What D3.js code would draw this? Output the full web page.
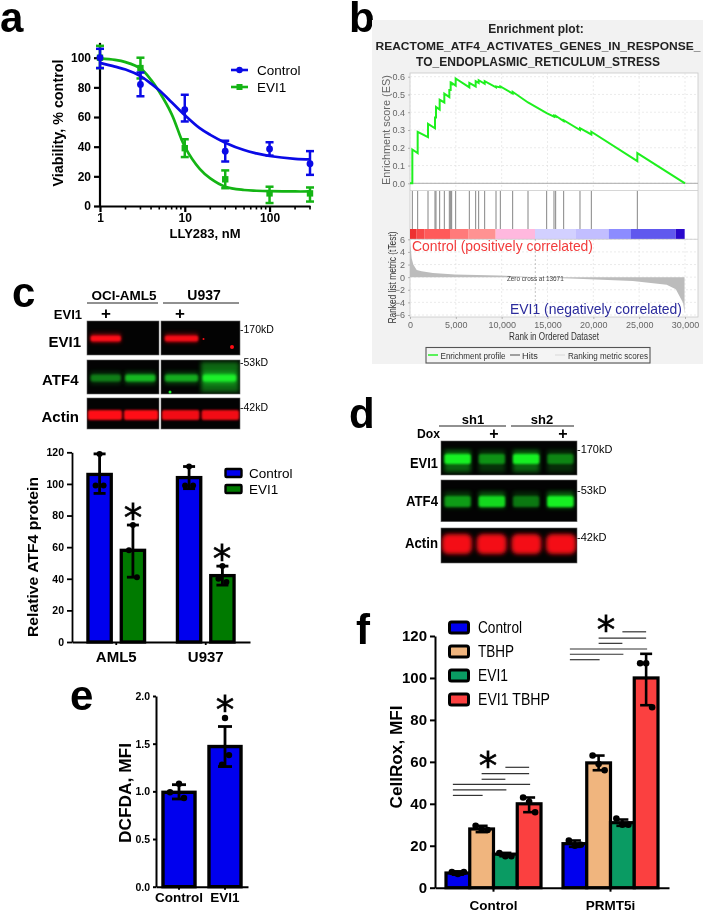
<!DOCTYPE html>
<html><head><meta charset="utf-8">
<script src="https://cdn.jsdelivr.net/npm/d3@7/dist/d3.min.js"></script>
<style>
html,body{margin:0;padding:0;background:#fff}
svg{display:block;filter:blur(0.45px)}
text{font-family:"Liberation Sans",Arial,sans-serif;fill:#000}
</style></head><body>
<svg id="c" width="705" height="912"></svg>
<script>
// ---------- panel a
const aDoses=[1,3,10,30,100,300];
const aControl=[100,82,65,37,38.5,28.5];
const aControlLo=[93,74,57,30,34,21];
const aControlHi=[106,90,75,44,43,37];
const aEvi=[100,93,39,18,8.5,8.5];
const aEviLo=[93,86,33,12,2,3];
const aEviHi=[108,100,45,24,13,12.5];
const aCurveDoses=[1,1.5,2,3,4,5,7,10,15,20,30,50,70,100,200,300];
const aControlCurve=[96.5,94,92,87.6,82.5,78,70,61.3,52.5,48,42.7,37.7,35.5,33.7,31.8,31.4];
const aEviCurve=[99.5,98.5,97,92.8,85,77,62,40,25,18.6,13,10.8,10.3,10,9.8,9.8];
// ---------- panel b
const esHits=[255,836,1964,2727,2836,3236,3745,4291,4436,4545,4982,6473,7164,7491,8145,9382,9855,11200,12873,14909,15709,15891,16764,18545,19782,24800];
const esBefore=[0,.17,.26,.31,.37,.415,.455,.485,.525,.56,.55,.54,.545,.565,.56,.54,.54,.505,.455,.395,.375,.375,.35,.3,.275,.125];
const esAfter=[.19,.29,.335,.37,.43,.47,.505,.525,.565,.565,.59,.565,.575,.58,.575,.545,.545,.515,.455,.395,.38,.38,.355,.31,.29,.17];
const barEnds=[727,1600,4364,6400,9345,13636,18109,21673,24109,28982,29964];
const barColors=["#ee3030","#f84848","#ff5a5a","#ff7a7a","#ff9292","#ffb8de","#d2d0ff","#c2beff","#8c8cff","#6058ee","#2a08cc"];
const rankX=[0,100,180,360,730,1270,2500,4900,9700,13671,18900,24300,28000,29000,29800,29950];
const rankY=[5.6,4.3,3,2,1.15,.95,.65,.42,.27,0,-.3,-.6,-1.2,-1.9,-4.1,-5.7];
const esYTicks=[0,.1,.2,.3,.4,.5,.6];
const rankYTicks=[-6,-4,-2,0,2,4,6];
const rankXTicks=[0,5000,10000,15000,20000,25000,30000];
// ---------- panel c
const cGroups=["AML5","U937"];
const cSeries=["Control","EVI1"];
const cValues=[[106,58],[104,42]];
const cHi=[[119,74],[111,48]];
const cLo=[[94,41],[97,36]];
const cPoints=[[[119,99,99],[74,58,41]],[[111,99,99],[48,40,38]]];
const cYTicks=[0,20,40,60,80,100,120];
const cBlotEvi=[1,0,.95,0];
const cBlotAtf=[.42,.68,.62,1];
const cBlotActin=[1,1,.95,.95];
// ---------- panel d
const dBlotEvi=[1,.5,1,.45];
const dBlotAtf=[.55,.85,.4,1];
const dBlotActin=[1,1,1,1];
// ---------- panel e
const eCats=["Control","EVI1"];
const eValues=[.99,1.47];
const eHi=[1.07,1.68];
const eLo=[.92,1.26];
const ePoints=[[1.08,.99,.93],[1.77,1.38,1.28]];
const eYTicks=[0,.5,1,1.5,2];
// ---------- panel f
const fGroups=["Control","PRMT5i"];
const fSeries=["Control","TBHP","EVI1","EVI1 TBHP"];
const fValues=[[7,28,16,40],[21,59.5,31,100]];
const fHi=[[7.8,29.5,16.6,43],[22.5,63,32.5,111.5]];
const fLo=[[6.2,26.5,15,36],[19.5,56,29.5,87]];
const fPoints=[[[7.5,6.5,7.5],[29.5,28,27.5],[16.5,15,15],[43,41,36]],[[22.5,20,20.5],[63,59,56],[33,30,30],[107,107,86]]];
const fYTicks=[0,20,40,60,80,100,120];
const fSig=[[[2,3,57.4],[1,3,54.4],[1,2,51.7],[0,3,49.3],[0,2,46.6],[0,1,44]],[[2,3,122],[1,3,119],[1,2,116.5],[0,3,113.8],[0,2,111.3],[0,1,108.7]]];

const svg=d3.select("#c");
const defs=svg.append("defs");
[["b1",1.1],["b2",2],["b3",4]].forEach(([id,s])=>{
  defs.append("filter").attr("id",id).attr("x","-30%").attr("y","-80%").attr("width","160%").attr("height","260%")
   .append("feGaussianBlur").attr("stdDeviation",s);
});
function T(x,y,s,o={}){
  const t=svg.append("text").attr("x",x).attr("y",y).text(s)
   .attr("font-size",o.size||12).attr("font-weight",o.bold?"bold":"normal")
   .attr("text-anchor",o.anchor||"start").style("fill",o.fill||"#000");
  if(o.family)t.style("font-family",o.family);
  if(o.len)t.attr("textLength",o.len).attr("lengthAdjust","spacingAndGlyphs");
  if(o.rot)t.attr("transform",`rotate(${o.rot} ${x} ${y})`);
  return t;
}
function star(cx,cy){T(cx,cy+18,"*",{size:37,anchor:"middle",family:"DejaVu Sans"}).style("stroke","#000").style("stroke-width",.6);}
function styleAxis(g,w,fs,bold=true){
  g.selectAll("path.domain").attr("stroke","#000").attr("stroke-width",w);
  g.selectAll(".tick line").attr("stroke","#000").attr("stroke-width",w);
  g.selectAll("text").attr("font-size",fs).attr("font-weight",bold?"bold":"normal").style("font-family",'"Liberation Sans"').style("fill","#000");
}
[["a",0,32],["b",349,32],["c",12,307],["d",349,428],["e",70,710],["f",356,644]].forEach(([s,x,y])=>T(x,y,s,{size:42,bold:true}));

// ===== panel a
(function(){
  const x=d3.scaleLog().domain([1,300]).range([100,310]);
  const y=d3.scaleLinear().domain([0,100]).range([206,57.7]);
  const gy=svg.append("g").attr("transform","translate(100,0)").call(d3.axisLeft(y).tickValues([0,20,40,60,80,100]).tickSize(6).tickSizeOuter(0));
  gy.select("path.domain").attr("d",`M0,${y(110)}V${y(0)}`);
  styleAxis(gy,2.2,12);
  const minor=[2,3,4,5,6,7,8,9,20,30,40,50,60,70,80,90,200,300];
  const gxm=svg.append("g").attr("transform","translate(0,206)");
  gxm.selectAll("line").data(minor).join("line").attr("x1",d=>x(d)).attr("x2",d=>x(d)).attr("y1",0).attr("y2",3.5).attr("stroke","#000").attr("stroke-width",1.6);
  const gx=svg.append("g").attr("transform","translate(0,206)").call(d3.axisBottom(x).tickValues([1,10,100]).tickFormat(d3.format("d")).tickSize(6).tickSizeOuter(0));
  styleAxis(gx,2.2,12);
  gx.selectAll("text").attr("dy","0.55em");
  T(63,123,"Viability, % control",{size:15,bold:true,anchor:"middle",rot:-90,len:127});
  T(205,238,"LLY283, nM",{size:13,bold:true,anchor:"middle"});
  const line=d3.line().x(d=>x(d[0])).y(d=>y(d[1])).curve(d3.curveCatmullRom.alpha(.5));
  const S=[
   {c:"#14b414",curve:aEviCurve,v:aEvi,lo:aEviLo,hi:aEviHi,sq:true},
   {c:"#0a0ae6",curve:aControlCurve,v:aControl,lo:aControlLo,hi:aControlHi,sq:false}];
  S.forEach(s=>{
    svg.append("path").attr("d",line(aCurveDoses.map((d,i)=>[d,s.curve[i]]))).attr("fill","none").attr("stroke",s.c).attr("stroke-width",2.7);
    aDoses.forEach((d,i)=>{
      const g=svg.append("g").attr("stroke",s.c).attr("stroke-width",2.5);
      g.append("line").attr("x1",x(d)).attr("x2",x(d)).attr("y1",y(s.lo[i])).attr("y2",y(s.hi[i]));
      [s.lo[i],s.hi[i]].forEach(v=>g.append("line").attr("x1",x(d)-4).attr("x2",x(d)+4).attr("y1",y(v)).attr("y2",y(v)));
      if(s.sq)svg.append("rect").attr("x",x(d)-3.2).attr("y",y(s.v[i])-3.2).attr("width",6.4).attr("height",6.4).attr("fill",s.c);
      else svg.append("circle").attr("cx",x(d)).attr("cy",y(s.v[i])).attr("r",3.4).attr("fill",s.c);
    });
  });
  [["Control","#0a0ae6",70,false],["EVI1","#14b414",87,true]].forEach(([n,c,yy,sq])=>{
    svg.append("line").attr("x1",231).attr("x2",248).attr("y1",yy).attr("y2",yy).attr("stroke",c).attr("stroke-width",2.6);
    if(sq)svg.append("rect").attr("x",236.5).attr("y",yy-3).attr("width",6).attr("height",6).attr("fill",c);
    else svg.append("circle").attr("cx",239.5).attr("cy",yy).attr("r",3.2).attr("fill",c);
    T(257,yy+5,n,{size:13.5});
  });
})();

// ===== panel b
(function(){
  svg.append("rect").attr("x",372).attr("y",20).attr("width",331).attr("height",344).attr("fill","#f2f2f2");
  svg.append("rect").attr("x",410).attr("y",73).attr("width",288).attr("height",244).attr("fill","#fff").attr("stroke","#c8c8c8").attr("stroke-width",.8);
  const tf={bold:true,anchor:"middle",size:12,fill:"#222"};
  T(536,33,"Enrichment plot:",tf);
  T(538,50,"REACTOME_ATF4_ACTIVATES_GENES_IN_RESPONSE_",{...tf,size:11.7,len:325});
  T(538,66,"TO_ENDOPLASMIC_RETICULUM_STRESS",tf);
  const x=d3.scaleLinear().domain([0,30000]).range([410,685]);
  const yE=d3.scaleLinear().domain([0,.6]).range([183.3,76.7]);
  const yR=d3.scaleLinear().domain([-6,6]).range([315,239.3]);
  const grid=svg.append("g").attr("stroke","#ddd").attr("stroke-width",.6).attr("stroke-dasharray","2,2");
  rankXTicks.forEach(t=>{
    grid.append("line").attr("x1",x(t)).attr("x2",x(t)).attr("y1",73).attr("y2",190);
    grid.append("line").attr("x1",x(t)).attr("x2",x(t)).attr("y1",239).attr("y2",317);
  });
  esYTicks.forEach(t=>grid.append("line").attr("x1",410).attr("x2",698).attr("y1",yE(t)).attr("y2",yE(t)));
  rankYTicks.forEach(t=>grid.append("line").attr("x1",410).attr("x2",698).attr("y1",yR(t)).attr("y2",yR(t)));
  svg.append("line").attr("x1",410).attr("x2",698).attr("y1",yE(0)).attr("y2",yE(0)).attr("stroke","#aaa");
  svg.append("rect").attr("x",410).attr("y",190).attr("width",288).attr("height",.8).attr("fill","#ccc");
  const prof=[[0,0]];
  esHits.forEach((h,i)=>{prof.push([h,esBefore[i]]);prof.push([h,esAfter[i]]);});
  prof.push([30000,0]);
  svg.append("path").attr("d",d3.line().x(d=>x(d[0])).y(d=>yE(d[1]))(prof)).attr("fill","none").attr("stroke","#1ef01e").attr("stroke-width",2);
  svg.append("g").selectAll("line").data(esHits).join("line").attr("x1",d=>x(d)).attr("x2",d=>x(d)).attr("y1",191).attr("y2",229).attr("stroke","#777").attr("stroke-width",.9);
  svg.append("g").selectAll("rect").data(barEnds).join("rect")
    .attr("x",(d,i)=>x(i?barEnds[i-1]:0)).attr("width",(d,i)=>x(d)-x(i?barEnds[i-1]:0)).attr("y",229).attr("height",10).attr("fill",(d,i)=>barColors[i]);
  svg.append("line").attr("x1",410).attr("x2",698).attr("y1",239.3).attr("y2",239.3).attr("stroke","#ccc").attr("stroke-width",.8);
  svg.append("path").attr("d",d3.area().x((d,i)=>x(rankX[i])).y0(yR(0)).y1(d=>yR(d))(rankY)).attr("fill","#bcbcbc");
  svg.append("line").attr("x1",x(13671)).attr("x2",x(13671)).attr("y1",239).attr("y2",317).attr("stroke","#aaa").attr("stroke-width",.7).attr("stroke-dasharray","2,2");
  T(x(13671),280.5,"Zero cross at 13671",{size:6.4,anchor:"middle",fill:"#444"});
  const g1=svg.append("g").attr("transform","translate(410,0)").call(d3.axisLeft(yE).tickValues(esYTicks).tickFormat(d3.format(".1f")).tickSize(2).tickSizeOuter(0));
  const g2=svg.append("g").attr("transform","translate(410,0)").call(d3.axisLeft(yR).tickValues(rankYTicks).tickSize(2).tickSizeOuter(0));
  const g3=svg.append("g").attr("transform","translate(0,317)").call(d3.axisBottom(x).tickValues(rankXTicks).tickFormat(d3.format(",")).tickSize(2).tickSizeOuter(0));
  [g1,g2,g3].forEach(g=>{
    g.selectAll("path.domain").attr("stroke","none");
    g.selectAll(".tick line").attr("stroke","#999").attr("stroke-width",.7);
    g.selectAll("text").attr("font-size",9).style("fill","#666").style("font-family",'"Liberation Sans"');
  });
  T(390,130,"Enrichment score (ES)",{size:11,anchor:"middle",rot:-90,fill:"#666",len:110});
  T(396,277.5,"Ranked list metric (tTest)",{size:10.5,anchor:"middle",rot:-90,fill:"#333",len:92});
  T(554,340,"Rank in Ordered Dataset",{size:10,anchor:"middle",fill:"#333",len:90});
  T(412,251,"Control (positively correlated)",{size:14.5,fill:"#f23b3b",len:181});
  T(510,313.5,"EVI1 (negatively correlated)",{size:14.5,fill:"#2b2b9c",len:172});
  svg.append("rect").attr("x",426).attr("y",347.5).attr("width",224).attr("height",15.5).attr("fill","#f4f4f4").attr("stroke","#555").attr("stroke-width",1.1);
  svg.append("line").attr("x1",428).attr("x2",438).attr("y1",355).attr("y2",355).attr("stroke","#28f028").attr("stroke-width",1.5);
  T(440.5,358.5,"Enrichment profile",{size:9.2,fill:"#333",len:65});
  svg.append("line").attr("x1",510).attr("x2",520).attr("y1",355).attr("y2",355).attr("stroke","#666").attr("stroke-width",1.2);
  T(522,358.5,"Hits",{size:9.2,fill:"#333"});
  svg.append("line").attr("x1",555).attr("x2",565).attr("y1",355).attr("y2",355).attr("stroke","#ddd").attr("stroke-width",1.2);
  T(568,358.5,"Ranking metric scores",{size:9.2,fill:"#333",len:80});
})();

// ===== blots
function gelRow(x0,x1,y0,y1,lanes,color,o={}){
  svg.append("rect").attr("x",x0).attr("y",y0).attr("width",x1-x0).attr("height",y1-y0).attr("fill","#030303").attr("stroke","#666").attr("stroke-width",.6);
  const clipId="cl"+Math.round(x0)+"_"+Math.round(y0);
  defs.append("clipPath").attr("id",clipId).append("rect").attr("x",x0).attr("y",y0).attr("width",x1-x0).attr("height",y1-y0);
  const g=svg.append("g").attr("clip-path",`url(#${clipId})`);
  const b=d3.scaleBand().domain(d3.range(lanes.length)).range([x0,x1]).paddingInner(o.pi??.12).paddingOuter(o.po??.1);
  const h=o.h||6, cy=o.cy??(y0+y1)/2;
  lanes.forEach((v,i)=>{
    if(!v)return;
    const X=b(i), W=b.bandwidth();
    if(o.haze)g.append("rect").attr("x",X).attr("y",cy-h*.9).attr("width",W).attr("height",h*o.haze).attr("fill",color).attr("opacity",v*.4).attr("filter","url(#b2)");
    g.append("rect").attr("x",X).attr("y",cy-h/2).attr("width",W).attr("height",h).attr("rx",o.rx||2).attr("fill",color).attr("opacity",Math.min(1,v)).attr("filter",`url(#${o.blur||"b1"})`);
  });
  return g;
}
function label(x,y,s,sz=15,len){T(x,y,s,{size:sz,bold:true,anchor:"end",len});}

// ===== panel c blots
(function(){
  const R="#ff0c14",G="#1cf02c";
  const rows=[[321,355,cBlotEvi,R,{h:6,cy:338.5,haze:1.6}],[360,394,cBlotAtf,G,{h:7,cy:378,haze:1.8}],[398,429,cBlotActin,R,{h:10,cy:415,pi:.05,po:.02}]];
  const gels=[[87,159,0,2],[161,240,2,4]];
  rows.forEach(r=>gels.forEach(([a,b,s,e])=>{
    const g=gelRow(a,b,r[0],r[1],r[2].slice(s,e),r[3],r[4]);
    if(r[2]===cBlotAtf&&s===2){
      g.append("rect").attr("x",201).attr("y",362).attr("width",38).attr("height",30).attr("fill",G).attr("opacity",.42).attr("filter","url(#b2)");
      g.append("circle").attr("cx",170).attr("cy",392).attr("r",1.5).attr("fill",G);
    }
    if(r[2]===cBlotEvi&&s===2){
      g.append("circle").attr("cx",203.5).attr("cy",339).attr("r",1).attr("fill",R);
      g.append("circle").attr("cx",232).attr("cy",347).attr("r",2).attr("fill",R);
    }
  }));
  T(124,300,"OCI-AML5",{size:13.5,bold:true,anchor:"middle"});
  T(204,300,"U937",{size:14,bold:true,anchor:"middle"});
  [[87,158],[163,239]].forEach(([a,b])=>svg.append("line").attr("x1",a).attr("x2",b).attr("y1",303).attr("y2",303).attr("stroke","#222").attr("stroke-width",1));
  label(82,319,"EVI1",13);
  T(106,319,"+",{size:17,bold:true,anchor:"middle"});
  T(180,319,"+",{size:17,bold:true,anchor:"middle"});
  label(81,346.5,"EVI1");label(78.5,385,"ATF4");label(79,421.5,"Actin");
  [["-170kD",333],["-53kD",366],["-42kD",411]].forEach(([s,y])=>T(240,y,s,{size:10.5}));
})();

// ===== panel c chart
(function(){
  const y=d3.scaleLinear().domain([0,120]).range([642,452.3]);
  const x0=d3.scaleBand().domain(cGroups).range([72,250]).paddingInner(.367).paddingOuter(.178);
  const x1=d3.scaleBand().domain(cSeries).range([0,x0.bandwidth()]).paddingInner(.3);
  const col={Control:"#0000ee",EVI1:"#007a00"};
  cGroups.forEach((g,i)=>cSeries.forEach((s,j)=>{
    const X=x0(g)+x1(s),W=x1.bandwidth(),cx=X+W/2;
    svg.append("rect").attr("x",X).attr("y",y(cValues[i][j])).attr("width",W).attr("height",y(0)-y(cValues[i][j])).attr("fill",col[s]).attr("stroke","#000").attr("stroke-width",3.3);
    const e=svg.append("g").attr("stroke","#000").attr("stroke-width",2.8);
    e.append("line").attr("x1",cx).attr("x2",cx).attr("y1",y(cHi[i][j])).attr("y2",y(cLo[i][j]));
    [cHi[i][j],cLo[i][j]].forEach(v=>e.append("line").attr("x1",cx-6).attr("x2",cx+6).attr("y1",y(v)).attr("y2",y(v)));
    const off=[0,-4,4];
    cPoints[i][j].forEach((v,k)=>svg.append("circle").attr("cx",cx+off[k]).attr("cy",y(v)).attr("r",3).attr("fill","#000"));
  }));
  const gy=svg.append("g").attr("transform","translate(72,0)").call(d3.axisLeft(y).tickValues(cYTicks).tickSize(5).tickSizeOuter(0));
  styleAxis(gy,1.8,10.5);
  const gx=svg.append("g").attr("transform","translate(0,642)").call(d3.axisBottom(x0).tickSize(3).tickSizeOuter(0));
  styleAxis(gx,1.8,15);
  gx.selectAll("text").attr("dy","0.95em");
  star(133,513);star(222,554);
  T(38,557,"Relative ATF4 protein",{size:15.5,bold:true,anchor:"middle",rot:-90,len:160});
  cSeries.forEach((s,i)=>{
    const yy=473+i*16;
    svg.append("rect").attr("x",225.5).attr("y",yy-4).attr("width",16).attr("height",8).attr("rx",1).attr("fill",col[s]).attr("stroke","#000").attr("stroke-width",2.4);
    T(249,yy+5,s,{size:13.5});
  });
})();

// ===== panel d
(function(){
  const G="#14f024",R="#f40c18";
  const o={po:.1,pi:.23};
  gelRow(441,577,441,475,dBlotEvi,G,{...o,h:10,cy:459,haze:2.2});
  gelRow(441,577,480,521.7,dBlotAtf,G,{...o,h:11,cy:501.5,haze:1.5});
  gelRow(441,577,528,563,dBlotActin,R,{po:.03,pi:.14,h:20,cy:544,blur:"b2",rx:6});
  T(473,424,"sh1",{size:13,bold:true,anchor:"middle"});
  T(542,424,"sh2",{size:13,bold:true,anchor:"middle"});
  [[439,506],[511,574]].forEach(([a,b])=>svg.append("line").attr("x1",a).attr("x2",b).attr("y1",426).attr("y2",426).attr("stroke","#222").attr("stroke-width",1));
  label(440,438,"Dox",13,23);
  T(494,439,"+",{size:16,bold:true,anchor:"middle"});
  T(563,439,"+",{size:16,bold:true,anchor:"middle"});
  label(438,467.5,"EVI1",15,28);label(438,506,"ATF4",15,32);label(438,548,"Actin",15,33);
  [["-170kD",453],["-53kD",494],["-42kD",541]].forEach(([s,y])=>T(577,y,s,{size:10.5,len:s.length*5.9}));
})();

// ===== panel e
(function(){
  const y=d3.scaleLinear().domain([0,2]).range([886.7,696]);
  const x=d3.scaleBand().domain(eCats).range([156,248]).paddingInner(.304).paddingOuter(.152);
  eCats.forEach((c,i)=>{
    const X=x(c),W=x.bandwidth(),cx=X+W/2;
    svg.append("rect").attr("x",X).attr("y",y(eValues[i])).attr("width",W).attr("height",y(0)-y(eValues[i])).attr("fill","#0000ee").attr("stroke","#000").attr("stroke-width",3.4);
    const e=svg.append("g").attr("stroke","#000").attr("stroke-width",2.8);
    e.append("line").attr("x1",cx).attr("x2",cx).attr("y1",y(eHi[i])).attr("y2",y(eLo[i]));
    [eHi[i],eLo[i]].forEach(v=>e.append("line").attr("x1",cx-7).attr("x2",cx+7).attr("y1",y(v)).attr("y2",y(v)));
    const off=i?[0,4,-3]:[0,-9,5];
    ePoints[i].forEach((v,k)=>svg.append("circle").attr("cx",cx+off[k]).attr("cy",y(v)).attr("r",3.2).attr("fill","#000"));
  });
  const gy=svg.append("g").attr("transform","translate(156,0)").call(d3.axisLeft(y).tickValues(eYTicks).tickFormat(d3.format(".1f")).tickSize(3).tickSizeOuter(0));
  styleAxis(gy,2,10.5);
  const gx=svg.append("g").attr("transform","translate(0,886.7)").call(d3.axisBottom(x).tickSize(3).tickSizeOuter(0));
  styleAxis(gx,2,13.5);
  star(225,705);
  T(131,793,"DCFDA, MFI",{size:17,bold:true,anchor:"middle",rot:-90,len:100});
})();

// ===== panel f
(function(){
  const y=d3.scaleLinear().domain([0,120]).range([887.7,636]);
  const x0=d3.scaleBand().domain(fGroups).range([435,669]).paddingInner(.188).paddingOuter(.094);
  const x1=d3.scaleBand().domain(fSeries).range([0,x0.bandwidth()]);
  const col=["#0000ee","#f0b57e","#0a9b63","#fb4040"];
  fGroups.forEach((g,i)=>{
    fSeries.forEach((s,j)=>{
      const X=x0(g)+x1(s),W=x1.bandwidth(),cx=X+W/2;
      svg.append("rect").attr("x",X).attr("y",y(fValues[i][j])).attr("width",W).attr("height",y(0)-y(fValues[i][j])).attr("fill",col[j]).attr("stroke","#000").attr("stroke-width",3.2);
      const e=svg.append("g").attr("stroke","#000").attr("stroke-width",2.6);
      e.append("line").attr("x1",cx).attr("x2",cx).attr("y1",y(fHi[i][j])).attr("y2",y(fLo[i][j]));
      [fHi[i][j],fLo[i][j]].forEach(v=>e.append("line").attr("x1",cx-6).attr("x2",cx+6).attr("y1",y(v)).attr("y2",y(v)));
      const off=[-6,0,6];
      fPoints[i][j].forEach((v,k)=>svg.append("circle").attr("cx",cx+off[k]).attr("cy",y(v)).attr("r",3.3).attr("fill","#000"));
    });
    fSig[i].forEach(([a,b,v])=>{
      const xa=x0(g)+x1(fSeries[a])+x1.bandwidth()/2-(a===0?5:0);
      const xb=x0(g)+x1(fSeries[b])+x1.bandwidth()/2+(a===0?1:0);
      svg.append("line").attr("x1",xa).attr("x2",xb).attr("y1",y(v)).attr("y2",y(v)).attr("stroke","#333").attr("stroke-width",1.2);
    });
  });
  const gy=svg.append("g").attr("transform","translate(435,0)").call(d3.axisLeft(y).tickValues(fYTicks).tickSize(5).tickSizeOuter(0));
  styleAxis(gy,2,15);
  const gx=svg.append("g").attr("transform","translate(0,887.7)").call(d3.axisBottom(x0).tickSize(4).tickSizeOuter(0));
  styleAxis(gx,2,13.5);
  gx.selectAll("text").attr("dy","1.15em");
  star(488,761);star(606,625);
  T(402,757,"CellRox, MFI",{size:16,bold:true,anchor:"middle",rot:-90,len:103});
  fSeries.forEach((s,i)=>{
    const yy=627+i*24;
    svg.append("rect").attr("x",449.5).attr("y",yy-5).attr("width",19).attr("height",11).attr("rx",2).attr("fill",col[i]).attr("stroke","#000").attr("stroke-width",3);
    T(478,yy+6,s,{size:16,len:[44,36,30,72][i]});
  });
})();
</script>
</body></html>
